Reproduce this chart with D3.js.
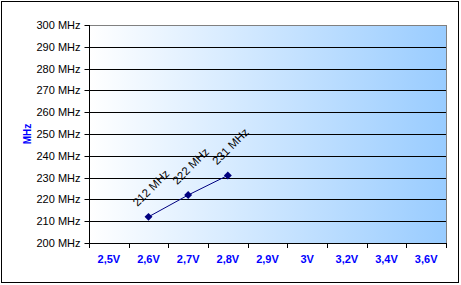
<!DOCTYPE html>
<html><head><meta charset="utf-8">
<script src="https://cdn.jsdelivr.net/npm/d3@7"></script>
<style>body{margin:0;background:#fff}svg{display:block}</style>
</head><body>
<script>
const categories = ["2,5V","2,6V","2,7V","2,8V","2,9V","3V","3,2V","3,4V","3,6V"];
const seriesX = ["2,6V","2,7V","2,8V"];
const seriesY = [212, 222, 231];
const yTicks = [200,210,220,230,240,250,260,270,280,290,300];
const yUnit = "MHz";

const W = 461, H = 285;
const m = {l:89, t:25, r:446, b:243};
const svg = d3.select("body").append("svg").attr("width", W).attr("height", H);

const defs = svg.append("defs");
const g = defs.append("linearGradient").attr("id","bg").attr("x1","0").attr("x2","1").attr("y1","0").attr("y2","0");
g.append("stop").attr("offset","0").attr("stop-color","#ffffff");
g.append("stop").attr("offset","1").attr("stop-color","#99ccff");

svg.append("rect").attr("x",1.5).attr("y",1.5).attr("width",457).attr("height",281)
  .attr("fill","#fff").attr("stroke","#000").attr("stroke-width",1);

const x = d3.scaleBand().domain(categories).range([m.l, m.r]).padding(0);
const y = d3.scaleLinear().domain([200,300]).range([m.b, m.t]);

svg.append("rect").attr("x",m.l).attr("y",m.t).attr("width",m.r-m.l).attr("height",m.b-m.t)
  .attr("fill","url(#bg)").attr("stroke","#808080").attr("stroke-width",1)
  .attr("shape-rendering","crispEdges");

// gridlines
svg.append("g").selectAll("line").data(yTicks.filter(d=>d>200 && d<300)).join("line")
  .attr("x1",m.l).attr("x2",m.r).attr("y1",d=>Math.round(y(d))+0.5).attr("y2",d=>Math.round(y(d))+0.5)
  .attr("stroke","#000").attr("stroke-width",1);

// y axis
const ya = svg.append("g").attr("transform",`translate(${m.l+0.5},0)`)
  .call(d3.axisLeft(y).tickValues(yTicks).tickSize(5).tickPadding(4).tickFormat(d=>d+" MHz"));
ya.select(".domain").attr("stroke","#000").attr("d",`M0,${m.t}V${m.b}`);
ya.selectAll(".tick line").attr("stroke","#000");
ya.selectAll(".tick").attr("transform",d=>`translate(0,${Math.round(y(d))+0.5})`);
ya.selectAll("text").attr("font-family","Arial, 'Liberation Sans', sans-serif").attr("font-size",11).attr("fill","#000").attr("x",-9);

// x axis
const xa = svg.append("g").attr("transform",`translate(0,${m.b+0.5})`)
  .call(d3.axisBottom(x).tickSize(0).tickPadding(12));
xa.select(".domain").attr("stroke","#000").attr("d",`M${m.l},0H${m.r}`);
xa.selectAll("text").attr("font-family","Arial, 'Liberation Sans', sans-serif").attr("font-size",11)
  .attr("font-weight","bold").attr("fill","#0000ff");
const tickPos = categories.map(c=>x(c)).concat([m.r]);
svg.append("g").selectAll("line").data(tickPos).join("line")
  .attr("x1",d=>Math.round(d)+0.5).attr("x2",d=>Math.round(d)+0.5)
  .attr("y1",m.b).attr("y2",m.b+5).attr("stroke","#000");

// y title
svg.append("text").attr("transform","translate(31,134) rotate(-90)").attr("text-anchor","middle")
  .attr("font-family","Arial, 'Liberation Sans', sans-serif").attr("font-size",10).attr("font-weight","bold")
  .attr("fill","#0000ff").text(yUnit);

// series
const pts = seriesX.map((c,i)=>({x:x(c)+x.bandwidth()/2, y:y(seriesY[i]), v:seriesY[i]}));
svg.append("path").datum(pts).attr("d",d3.line().x(d=>d.x).y(d=>d.y))
  .attr("fill","none").attr("stroke","#000080").attr("stroke-width",1);
svg.append("g").selectAll("path").data(pts).join("path")
  .attr("d",d3.symbol(d3.symbolDiamond2 || d3.symbolDiamond, 40))
  .attr("transform",d=>`translate(${d.x},${d.y})`)
  .attr("fill","#000080");
svg.append("g").selectAll("text").data(pts).join("text")
  .attr("transform",d=>`translate(${d.x+2.5},${d.y-29}) rotate(-45)`)
  .attr("text-anchor","middle").attr("dy","0.35em")
  .attr("font-family","Arial, 'Liberation Sans', sans-serif").attr("font-size",11.5).attr("fill","#000")
  .text(d=>d.v+" MHz");
</script>
</body></html>
